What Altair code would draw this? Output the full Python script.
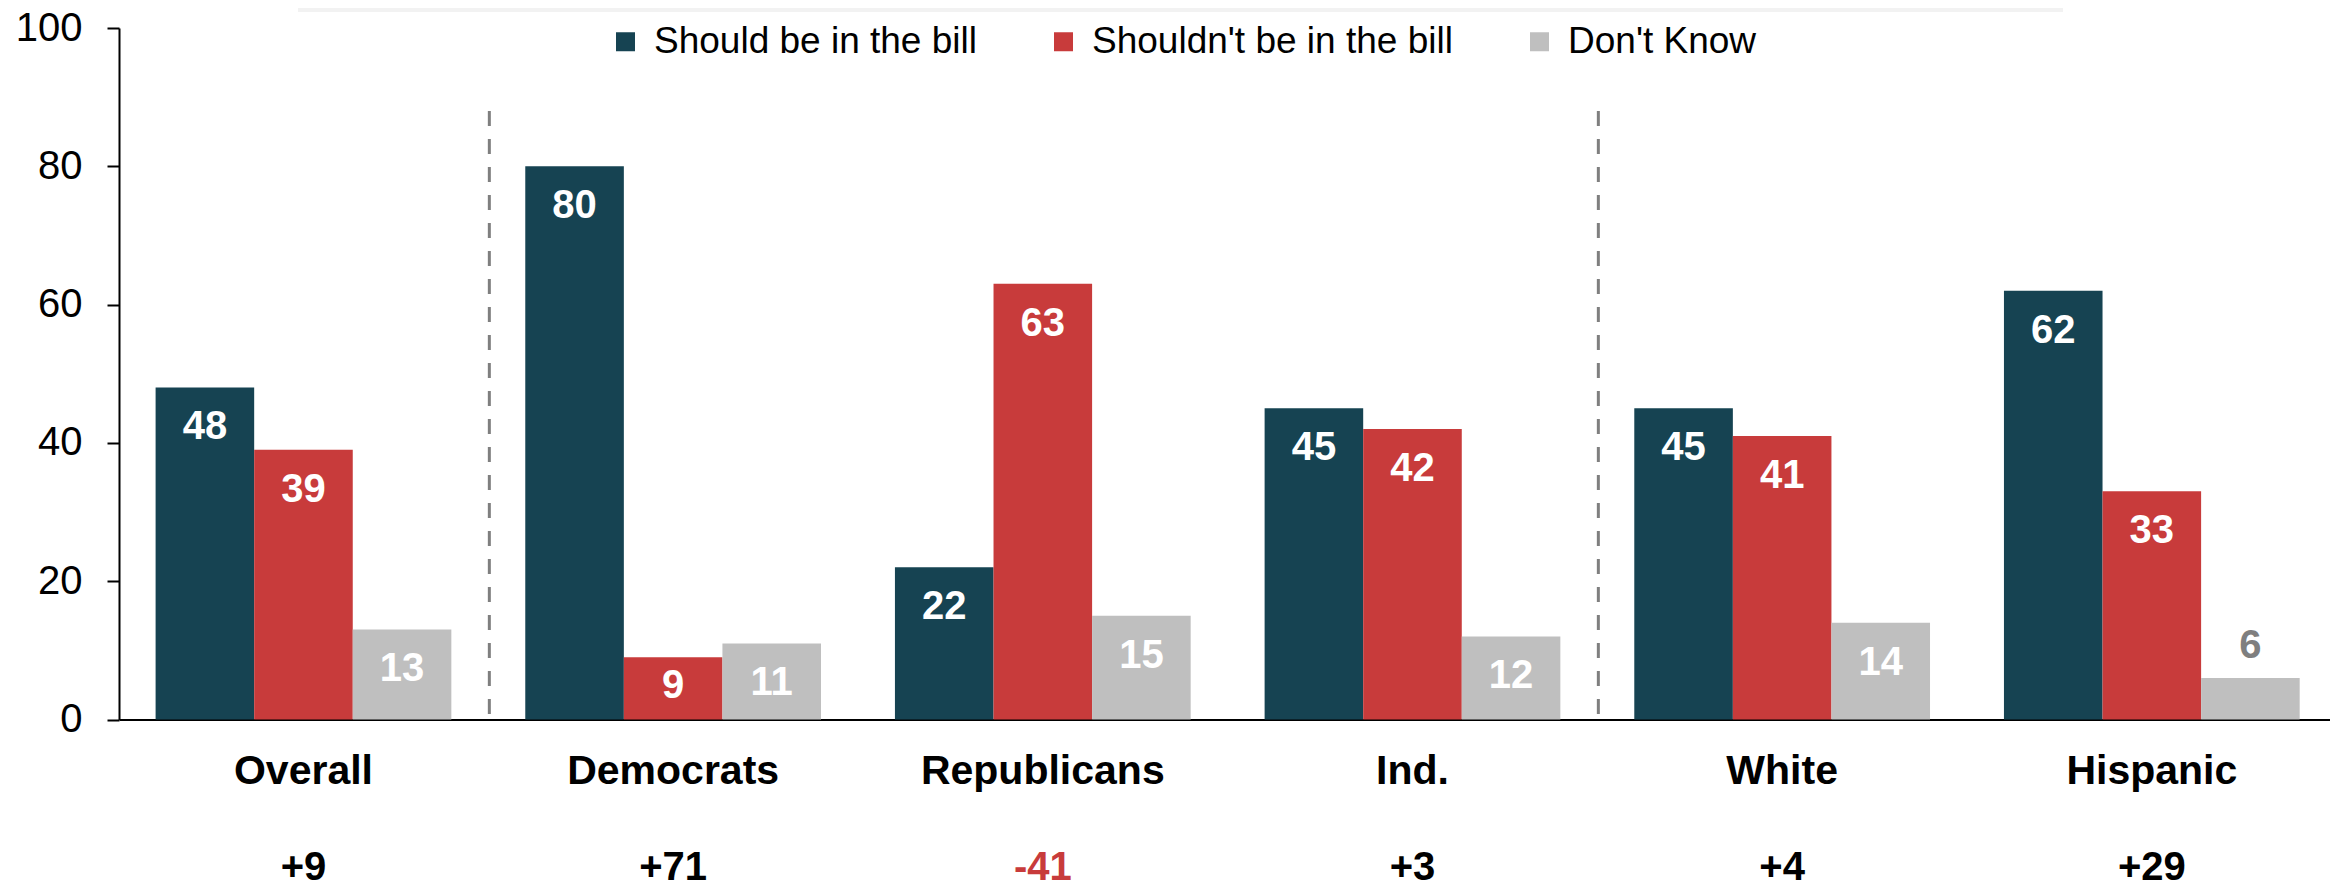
import altair as alt
import pandas as pd

groups = ["Overall", "Democrats", "Republicans", "Ind.", "White", "Hispanic"]
series = ["Should be in the bill", "Shouldn't be in the bill", "Don't Know"]
should = [48, 80, 22, 45, 45, 62]
shouldnt = [39, 9, 63, 42, 41, 33]
dont_know = [13, 11, 15, 12, 14, 6]
net = [9, 71, -41, 3, 4, 29]
separators_after = ["Overall", "Ind."]
y_ticks = [0, 20, 40, 60, 80, 100]

colors = ["#164352", "#c83b3b", "#bfbfbf"]
FONT = "Liberation Sans"

rows = []
for s, vals in zip(series, [should, shouldnt, dont_know]):
    for g, v in zip(groups, vals):
        rows.append({"group": g, "series": s, "value": v})
bars_df = pd.DataFrame(rows)
net_df = pd.DataFrame({"group": groups, "net": net})
sep_df = pd.DataFrame({"group": separators_after})

W = 2211
H = 691.5

x_scale = alt.Scale(domain=groups, paddingInner=0.2, paddingOuter=0.0905, align=0.547)
y_scale = alt.Scale(domain=[0, 100], nice=False)
xoff_scale = alt.Scale(domain=series, paddingInner=0, paddingOuter=0)

x_axis = alt.Axis(title=None, labelAngle=0, ticks=False, domain=True, domainColor="black",
                  domainWidth=2, labelFont=FONT, labelFontSize=41, labelFontWeight="bold",
                  labelColor="black", labelPadding=32, labelLimit=1000)
y_axis = alt.Axis(title=None, values=y_ticks, grid=False, domainColor="black", domainWidth=2,
                  tickColor="black", tickWidth=2, tickSize=12, labelFont=FONT, labelFontSize=40,
                  labelColor="black", labelPadding=25)

band = alt.Chart(pd.DataFrame({"k": [0]})).mark_rect(color="#f2f2f2").encode(
    x=alt.value(179), x2=alt.value(1944), y=alt.value(-20), y2=alt.value(-16)
)

bars = alt.Chart(bars_df).mark_bar().encode(
    x=alt.X("group:N", scale=x_scale, sort=groups, axis=x_axis),
    xOffset=alt.XOffset("series:N", scale=xoff_scale, sort=series),
    y=alt.Y("value:Q", scale=y_scale, axis=y_axis),
    color=alt.Color(
        "series:N",
        scale=alt.Scale(domain=series, range=colors),
        legend=alt.Legend(orient="none", legendX=488, legendY=-5, direction="horizontal",
                          title=None, symbolType="square", symbolSize=361, symbolStrokeWidth=0,
                          labelFont=FONT, labelFontSize=37, labelColor="black", labelOffset=10,
                          columnPadding=68, labelLimit=1000, padding=0),
    ),
)

labels = alt.Chart(bars_df).transform_calculate(
    ly="datum.value < 8 ? datum.value + 2.9 : max(datum.value - 7.5, 3.1)"
).mark_text(font=FONT, fontSize=40, fontWeight="bold", baseline="alphabetic", align="center").encode(
    x=alt.X("group:N", scale=x_scale, sort=groups, axis=x_axis),
    xOffset=alt.XOffset("series:N", scale=xoff_scale, sort=series),
    y=alt.Y("ly:Q", scale=y_scale, axis=y_axis),
    text=alt.Text("value:Q"),
    color=alt.condition("datum.value < 8", alt.value("#7f7f7f"), alt.value("white")),
)

seps = alt.Chart(sep_df).mark_rule(color="#7f7f7f", strokeWidth=3, strokeDash=[15, 13], xOffset=38).encode(
    x=alt.X("group:N", scale=x_scale, sort=groups, axis=x_axis, bandPosition=1),
    y=alt.YDatum(88, scale=y_scale, axis=y_axis),
    y2=alt.Y2Datum(0),
)

net_text = alt.Chart(net_df).transform_calculate(
    label="(datum.net > 0 ? '+' : '') + datum.net"
).mark_text(font=FONT, fontSize=40, fontWeight="bold", baseline="alphabetic", align="center").encode(
    x=alt.X("group:N", scale=x_scale, sort=groups, axis=x_axis),
    y=alt.value(852),
    text=alt.Text("label:N"),
    color=alt.condition("datum.net < 0", alt.value("#c83b3b"), alt.value("black")),
)

chart = alt.layer(band, bars, labels, seps, net_text).properties(
    width=W,
    height=H,
    padding={"left": 111, "top": 20, "right": 0, "bottom": 164},
    autosize=alt.AutoSizeParams(type="none"),
).configure_view(strokeWidth=0)

chart.save("out.html", embed_options={"renderer": "svg", "actions": False})
